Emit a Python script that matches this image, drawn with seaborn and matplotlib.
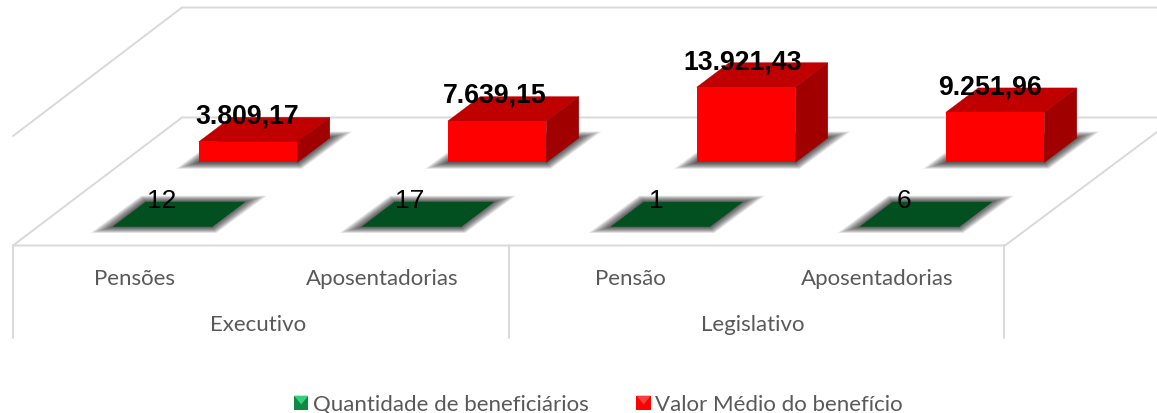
import seaborn as sns
import pandas as pd
import matplotlib.pyplot as plt
from matplotlib.legend_handler import HandlerBase
from matplotlib.patches import Patch, Polygon, Rectangle

poderes = ["Executivo", "Legislativo"]
categorias = ["Pensões", "Aposentadorias", "Pensão", "Aposentadorias"]
quantidade = [12, 17, 1, 6]
valor_medio = [3809.17, 7639.15, 13921.43, 9251.96]
serie_quantidade = "Quantidade de beneficiários"
serie_valor = "Valor Médio do benefício"

W, H = 1157, 414
PX_PER_CAT = 249.0
PX_PER_VAL = 0.0054  # pixels per unit on the shared value axis
DEPTH_X, DEPTH_Y = 32.5, 24.5
BASE_VALOR, BASE_QTD = 163.4, 227.6
LINE = "#D9D9D9"
GREY = "#595959"

sns.set_theme(style="white")
plt.rcParams["font.family"] = ["Lato", "DejaVu Sans"]


def fmt_br(v):
    return f"{v:,.2f}".replace(",", "#").replace(".", ",").replace("#", ".")


def series_axes(fig, x_first, y_base):
    ax = fig.add_axes([0, 0, 1, 1])
    set_limits(ax, x_first, y_base)
    ax.set_axis_off()
    return ax


def set_limits(ax, x_first, y_base):
    ax.set_xlim(-x_first / PX_PER_CAT, (W - x_first) / PX_PER_CAT)
    ax.set_ylim((y_base - H) / PX_PER_VAL, y_base / PX_PER_VAL)


def draw_3d(ax, df, col, front, top, side):
    sns.barplot(data=df, x="pos", y=col, color=front, saturation=1, width=0.396,
                native_scale=True, errorbar=None, linewidth=0, ax=ax, zorder=4)
    ax.set_axis_off()
    dx = DEPTH_X / PX_PER_CAT
    dy = DEPTH_Y / PX_PER_VAL
    for bar in ax.containers[0]:
        x0, x1 = bar.get_x(), bar.get_x() + bar.get_width()
        y1 = bar.get_height()
        # soft shadow on the floor, stacked polygons stand in for a blur
        layers = 18
        for i in range(layers):
            px = (23 - 22 * i / (layers - 1)) / PX_PER_CAT
            py = (6.5 - 6 * i / (layers - 1)) / PX_PER_VAL
            shadow = [(x0 - px, -py), (x1 + px * 0.2, -py), (x1 + dx + px, dy + py), (x0 + dx - px * 0.2, dy + py)]
            ax.add_patch(Polygon(shadow, closed=True, facecolor="black", edgecolor="none",
                                 alpha=0.05, zorder=2))
        ax.add_patch(Polygon([(x0, y1), (x1, y1), (x1 + dx, y1 + dy), (x0 + dx, y1 + dy)],
                             closed=True, facecolor=top, edgecolor=top, linewidth=0.3, zorder=3))
        if y1 > 1:
            ax.add_patch(Polygon([(x1, 0), (x1 + dx, dy), (x1 + dx, y1 + dy), (x1, y1)],
                                 closed=True, facecolor=side, edgecolor=side, linewidth=0.3, zorder=3))


def place_labels(texts, dy_pts):
    # labels drift left of the bars as the row goes on
    for i, t in enumerate(texts):
        t.xyann = ((-0.5 - 1.6 * i) * 0.72, dy_pts)


class BevelKey(HandlerBase):
    def create_artists(self, legend, orig, xd, yd, width, height, fontsize, trans):
        base = Rectangle((-xd, -yd), width, width, facecolor=orig.get_facecolor(),
                         edgecolor="none", transform=trans)
        tri = Polygon([(-xd, width - yd), (width - xd, width - yd), (width / 2 - xd, width * 0.4 - yd)],
                      closed=True, facecolor=orig.get_edgecolor(), edgecolor="none", transform=trans)
        return [base, tri]


df = pd.DataFrame({"pos": range(len(categorias)), "cat": categorias,
                   "quantidade": quantidade, "valor": valor_medio})

fig = plt.figure(figsize=(W / 100, H / 100), dpi=100)

# floor and axis frame, in pixel coordinates
bg = fig.add_axes([0, 0, 1, 1])
bg.set_xlim(0, W)
bg.set_ylim(H, 0)
bg.set_axis_off()
frame = [
    ([13, 182, W], [137, 8.5, 8.5]),
    ([13, 182, W], [246.5, 118.5, 118.5]),
    ([13, 1005, W], [246.5, 246.5, 133]),
    ([13, 13], [246, 339]),
    ([509, 509], [246, 339]),
    ([1004, 1004], [246, 339]),
]
for xs, ys in frame:
    bg.plot(xs, ys, color=LINE, linewidth=1.4, solid_joinstyle="miter")
for x, label in zip([134, 382, 630, 877], categorias):
    bg.text(x, 279, label, ha="center", va="center", color=GREY, fontsize=16)
for x, label in zip([258, 753], poderes):
    bg.text(x, 325, label, ha="center", va="center", color=GREY, fontsize=16)

ax_valor = series_axes(fig, 248, BASE_VALOR)
draw_3d(ax_valor, df, "valor", "#FF0000", "#C00000", "#A00000")
set_limits(ax_valor, 248, BASE_VALOR)
txt = ax_valor.bar_label(ax_valor.containers[0], labels=[fmt_br(v) for v in valor_medio], padding=9,
                         fontsize=19.2, fontweight="bold", family="Liberation Sans", color="black", zorder=6)
place_labels(txt, 9.5)

ax_qtd = series_axes(fig, 162.5, BASE_QTD)
draw_3d(ax_qtd, df, "quantidade", "#02501F", "#02501F", "#02501F")
set_limits(ax_qtd, 162.5, BASE_QTD)
txt = ax_qtd.bar_label(ax_qtd.containers[0], labels=[str(v) for v in quantidade], padding=10,
                       fontsize=19, family="Liberation Sans", color="black", zorder=6)
place_labels(txt, 10.3)

handles = [Patch(facecolor="#0E8A45", edgecolor="#34D07F"), Patch(facecolor="#FF0000", edgecolor="#F04040")]
fig.legend(handles, [serie_quantidade, serie_valor], handler_map={Patch: BevelKey()},
           loc="lower left", bbox_to_anchor=(274 / W, -0.051), ncol=2, frameon=False,
           fontsize=16, labelcolor=GREY, handlelength=0.65, handletextpad=0.2, columnspacing=2.15)

fig.savefig("out.png", dpi=100)
